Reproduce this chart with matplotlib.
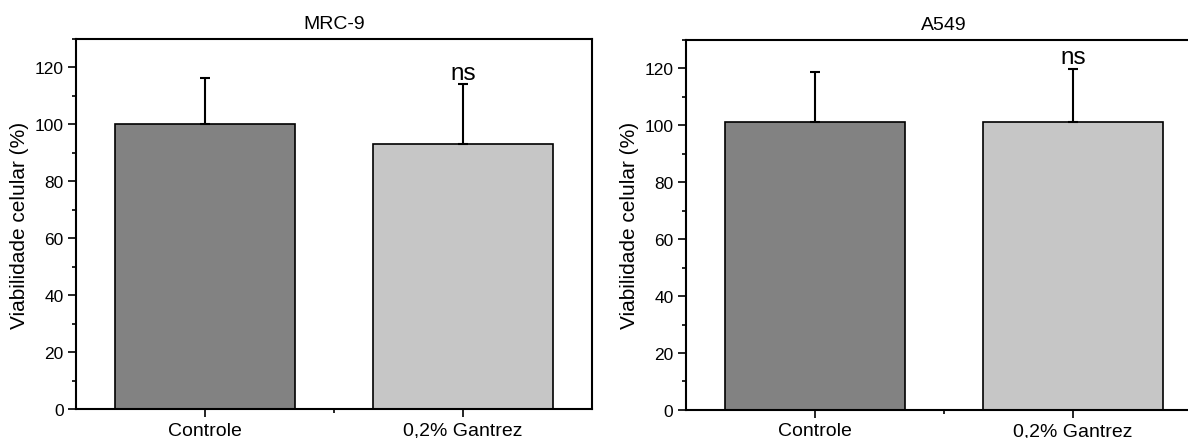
import matplotlib.pyplot as plt
from matplotlib.ticker import MultipleLocator

plt.rcParams['font.family'] = ['Liberation Sans', 'DejaVu Sans']

# cell viability per line (mean, upper SD)
groups = ["Controle", "0,2% Gantrez"]
mrc9_mean = [100.0, 93.0]
mrc9_sd = [16.3, 21.1]
a549_mean = [101.0, 101.0]
a549_sd = [17.7, 18.7]
bar_colors = ["#828282", "#c6c6c6"]

fig = plt.figure(figsize=(11.88, 4.39), dpi=100)
ax1 = fig.add_axes([0.064, 0.066, 0.4343, 0.843])
ax2 = fig.add_axes([0.5774, 0.064, 0.4343, 0.843])


def draw_panel(ax, title, means, sds):
    x = [1, 2]
    ax.bar(x, means, width=0.7, color=bar_colors, edgecolor="black",
           linewidth=1.2, zorder=2)
    ax.errorbar(x, means, yerr=[[0, 0], sds], fmt="none", ecolor="black",
                elinewidth=1.5, capsize=3.5, capthick=1.5, zorder=3)
    # significance mark over the treated group
    ax.text(x[1], means[1] + sds[1] + 2, "ns", ha="center", va="baseline",
            fontsize=17.5)
    ax.set_xlim(0.5, 2.5)
    ax.set_ylim(0, 130)
    ax.set_xticks(x)
    ax.set_xticklabels(groups, fontsize=14)
    ax.yaxis.set_major_locator(MultipleLocator(20))
    ax.yaxis.set_minor_locator(MultipleLocator(10))
    ax.tick_params(axis="y", labelsize=12.5)
    ax.tick_params(which="major", direction="out", length=5.5, width=1.2)
    ax.tick_params(which="minor", direction="out", length=3, width=1.2)
    # only the minor x tick between the bars
    ax.set_xticks([1.5], minor=True)
    ax.set_ylabel("Viabilidade celular (%)", fontsize=15)
    ax.set_title(title, fontsize=14, pad=8)
    for s in ax.spines.values():
        s.set_linewidth(1.5)


draw_panel(ax1, "MRC-9", mrc9_mean, mrc9_sd)
draw_panel(ax2, "A549", a549_mean, a549_sd)
# right panel runs past the figure edge
ax2.spines["right"].set_visible(False)

fig.savefig("out.png", dpi=100)
